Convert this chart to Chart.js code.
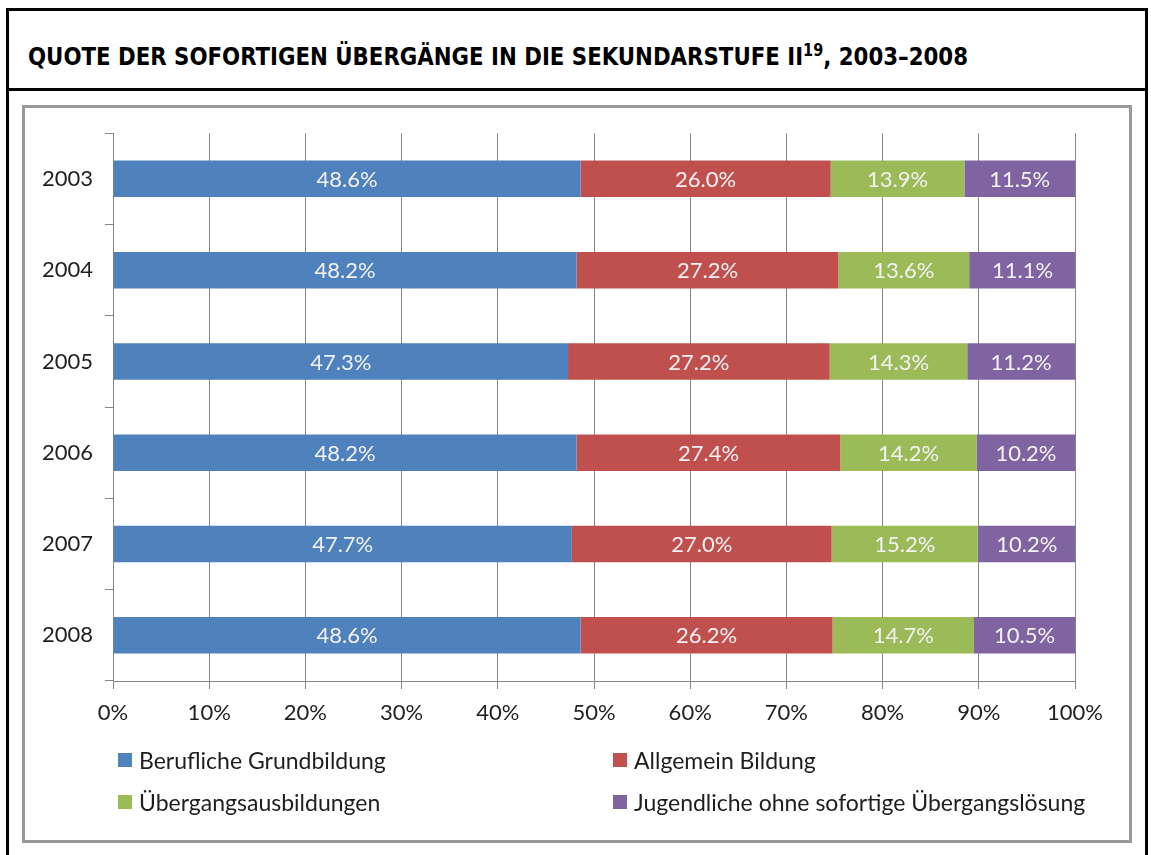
<!DOCTYPE html>
<html>
<head>
<meta charset="utf-8">
<script src="https://cdn.jsdelivr.net/npm/chart.js@4.4.0/dist/chart.umd.min.js"></script>
<style>
html,body{margin:0;padding:0;background:#fff;}
body{width:1151px;height:855px;position:relative;overflow:hidden;font-family:Lato,"Open Sans",sans-serif;}
#rahmen{position:absolute;left:6px;top:8px;width:1142px;height:900px;border:3px solid #000;border-bottom:none;box-sizing:border-box;}
#trenner{position:absolute;left:6px;top:88px;width:1142px;height:3px;background:#000;}
#titel{position:absolute;left:28px;top:44px;font-family:"DejaVu Sans Condensed","DejaVu Sans",sans-serif;font-stretch:condensed;font-weight:bold;font-size:25px;line-height:25px;color:#000;white-space:nowrap;transform-origin:0 0;}
#titel sup{font-size:17px;vertical-align:9px;line-height:0;}
#box{position:absolute;left:22px;top:105px;width:1110px;height:738px;border:3px solid #999;box-sizing:border-box;background:#fff;}
#wrap{position:absolute;left:25px;top:108px;width:1104px;height:732px;}
.leg{position:absolute;font-size:23px;color:#1e1e1e;white-space:nowrap;line-height:24px;}
.leg i{position:absolute;left:-21px;top:5px;width:14px;height:14px;}
</style>
</head>
<body>
<div id="rahmen"></div>
<div id="trenner"></div>
<div id="titel">QUOTE DER SOFORTIGEN ÜBERGÄNGE IN DIE SEKUNDARSTUFE II<sup>19</sup>, 2003–2008</div>
<div id="box"></div>
<div id="wrap"><canvas id="grafico" width="1104" height="732"></canvas></div>
<div id="legende"></div>
<script>
// Daten
const jahre = ["2003","2004","2005","2006","2007","2008"];
const beruflich = [48.6, 48.2, 47.3, 48.2, 47.7, 48.6];
const allgemein = [26.0, 27.2, 27.2, 27.4, 27.0, 26.2];
const uebergang = [13.9, 13.6, 14.3, 14.2, 15.2, 14.7];
const ohne = [11.5, 11.1, 11.2, 10.2, 10.2, 10.5];
const serien = ["Berufliche Grundbildung","Allgemein Bildung","Übergangsausbildungen","Jugendliche ohne sofortige Übergangslösung"];
const farben = ["#4f81bd","#c0504d","#9bbb59","#8064a2"];
const xTicks = [0,10,20,30,40,50,60,70,80,90,100];

const grau = "#868686";

// Titel schmaler machen (Original ist eine Condensed-Schrift)
const titel=document.getElementById("titel");
const tb=titel.getBoundingClientRect().width;
titel.style.transform="scaleX("+(940/tb)+")";

// Werte in den Balken
const wertePlugin = {
id:"werte",
afterDatasetsDraw(c){
const ctx=c.ctx;
ctx.save();
ctx.font="22px Lato";
ctx.fillStyle="#f2f2f2";
ctx.textAlign="center";
ctx.textBaseline="middle";
c.data.datasets.forEach((ds,i)=>{
c.getDatasetMeta(i).data.forEach((el,j)=>{
const mitte=(el.x+el.base)/2;
ctx.fillText(ds.data[j].toFixed(1)+"%",mitte,el.y+1);
});
});
ctx.restore();
}
};

const werteListen=[beruflich,allgemein,uebergang,ohne];

new Chart(document.getElementById("grafico"),{
type:"bar",
data:{
labels:jahre,
datasets:serien.map((s,i)=>({
label:s,
data:werteListen[i],
backgroundColor:farben[i],
borderWidth:0,
barPercentage:0.4,
categoryPercentage:1
}))
},
options:{
indexAxis:"y",
responsive:false,
animation:false,
layout:{padding:{left:0,right:54,top:25,bottom:0}},
plugins:{legend:{display:false},tooltip:{enabled:false}},
scales:{
x:{
stacked:true,
min:0,max:100,
afterBuildTicks(s){s.ticks=xTicks.map(v=>({value:v}));},
afterFit(s){s.height=159;},
grid:{color:grau,tickLength:8,lineWidth:1},
border:{color:grau},
ticks:{callback:v=>v+"%",font:{family:"Lato",size:22},color:"#1e1e1e",padding:11,maxRotation:0}
},
y:{
stacked:true,
afterFit(s){s.width=88;},
grid:{drawOnChartArea:false,color:grau,tickLength:8,offset:true},
border:{color:grau},
ticks:{font:{family:"Lato",size:22},color:"#1e1e1e",padding:12}
}
}
},
plugins:[wertePlugin]
});

// Legende
const pos=[[139,748],[634,748],[139,790],[634,790]];
const legende=document.getElementById("legende");
serien.forEach((s,i)=>{
const d=document.createElement("div");
d.className="leg";
d.style.left=pos[i][0]+"px";
d.style.top=pos[i][1]+"px";
d.innerHTML='<i style="background:'+farben[i]+'"></i>'+s;
legende.appendChild(d);
});
</script>
</body>
</html>
